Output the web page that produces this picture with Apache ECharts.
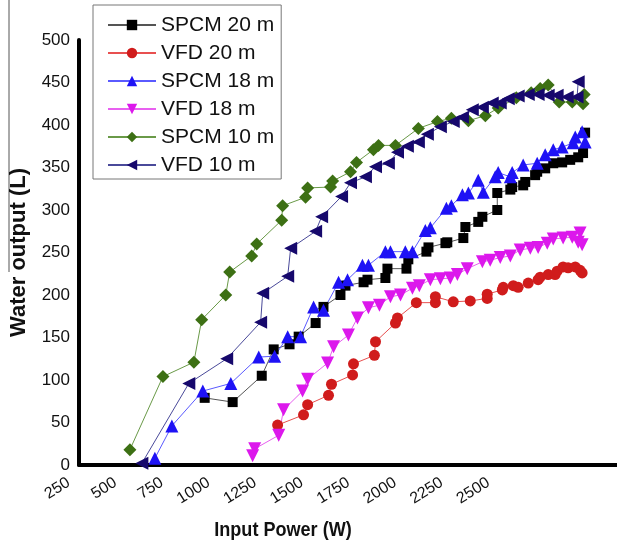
<!DOCTYPE html>
<html>
<head>
<meta charset="utf-8">
<script src="https://cdn.jsdelivr.net/npm/echarts@6/dist/echarts.min.js"></script>
<style>
html,body{margin:0;padding:0;background:#fff;}
#chart{width:617px;height:547px;}
</style>
</head>
<body>
<div id="chart"></div>
<script>
const xTickLabels = [250, 500, 750, 1000, 1250, 1500, 1750, 2000, 2250, 2500];
const seriesNames = ['SPCM 20 m', 'VFD 20 m', 'SPCM 18 m', 'VFD 18 m', 'SPCM 10 m', 'VFD 10 m'];

const spcm20Power = [924,1074,1230,1294,1379,1428,1519,1561,1652,1679,1776,1797,1893,1904,2006,2016,2113,2124,2215,2225,2311,2322,2391,2413,2493,2493,2563,2573,2632,2643,2696,2707,2750,2793,2841,2884,2927,2953,2964];
const spcm20Water = [79,74,105,136,142,151,167,186,200,211,215,218,220,231,231,242,251,256,261,262,267,280,286,292,300,320,324,327,329,333,341,345,349,355,356,359,362,367,391];

const vfd20Power = [1315,1454,1476,1588,1604,1717,1722,1834,1840,1947,1958,2059,2161,2161,2257,2348,2439,2439,2520,2525,2579,2605,2659,2712,2723,2766,2803,2814,2846,2873,2911,2937,2948];
const vfd20Water = [47,59,71,82,95,106,119,129,145,167,173,191,191,198,192,193,196,201,206,209,211,209,214,218,221,224,224,228,233,232,233,229,226];

const spcm18Power = [657,748,914,1064,1214,1299,1369,1438,1508,1561,1642,1690,1770,1802,1893,1920,2000,2038,2107,2134,2220,2247,2306,2338,2391,2418,2482,2498,2563,2573,2632,2707,2750,2793,2841,2900,2911,2948,2964];
const spcm18Water = [8,46,87,96,127,128,151,151,186,182,215,218,235,235,251,251,251,251,276,279,302,305,318,320,335,321,339,344,339,344,353,355,365,371,374,379,386,392,380];

const vfd18Power = [1181,1192,1321,1347,1449,1476,1583,1615,1695,1743,1802,1861,1920,1974,2038,2075,2134,2188,2241,2279,2332,2413,2455,2509,2563,2616,2670,2712,2761,2793,2846,2895,2927,2937,2948];
const vfd18Water = [11,19,35,65,87,101,120,139,153,173,185,188,198,200,208,211,218,219,220,224,231,239,241,244,246,253,255,256,261,266,267,268,262,273,259];

const spcm10Power = [523,700,866,908,1037,1058,1176,1203,1337,1342,1465,1476,1599,1610,1706,1738,1829,1856,1947,2070,2172,2247,2338,2429,2498,2595,2675,2723,2766,2825,2895,2959,2953];
const spcm10Water = [18,104,121,171,200,227,246,260,288,305,315,326,327,334,345,356,371,376,376,396,404,408,405,411,420,432,438,443,447,427,427,436,425];

const vfd10Power = [587,839,1042,1224,1235,1369,1385,1519,1551,1658,1706,1786,1840,1909,1958,2011,2070,2118,2188,2257,2306,2359,2413,2466,2509,2552,2605,2659,2712,2766,2814,2868,2921,2927];
const vfd10Water = [2,96,125,168,202,222,255,275,292,316,332,339,351,355,368,375,380,389,398,404,409,418,421,426,426,431,434,436,436,435,435,433,433,451];

function pairs(xs, ys) { return xs.map((x, i) => [x, ys[i]]); }

const FONT = '"Liberation Sans", Arial, sans-serif';

const styles = [
  { symbol: 'rect', size: 10, rotate: 0, marker: '#000000', line: '#555555' },
  { symbol: 'circle', size: 11, rotate: 0, marker: '#d01c1c', line: '#e85050' },
  { symbol: 'triangle', size: 13, rotate: 0, marker: '#1e12f5', line: '#5a5aff' },
  { symbol: 'triangle', size: 13, rotate: 180, marker: '#dc18ec', line: '#e860f0' },
  { symbol: 'diamond', size: 13, rotate: 0, marker: '#3d7014', line: '#6a9a48' },
  { symbol: 'triangle', size: 13, rotate: 90, marker: '#16086c', line: '#4a4a9a' }
];

const dataSets = [
  pairs(spcm20Power, spcm20Water),
  pairs(vfd20Power, vfd20Water),
  pairs(spcm18Power, spcm18Water),
  pairs(vfd18Power, vfd18Water),
  pairs(spcm10Power, spcm10Water),
  pairs(vfd10Power, vfd10Water)
];

const chart = echarts.init(document.getElementById('chart'), null, { renderer: 'canvas' });

const option = {
  animation: false,
  backgroundColor: '#ffffff',
  textStyle: { fontFamily: FONT },
  grid: { left: 78, right: 0, top: 40, bottom: 82, containLabel: false },
  legend: {
    orient: 'vertical',
    left: 93,
    top: 5,
    data: seriesNames,
    itemWidth: 48,
    itemHeight: 13,
    itemGap: 6,
    padding: [9, 7, 3, 14],
    borderColor: '#777',
    borderWidth: 1,
    backgroundColor: '#ffffff',
    textStyle: { fontSize: 21, color: '#111', fontFamily: FONT, lineHeight: 22 }
  },
  xAxis: {
    type: 'value',
    min: 250,
    max: 3135,
    interval: 250,
    axisLine: { show: true, onZero: false, lineStyle: { color: '#000', width: 4 } },
    axisTick: { show: false },
    splitLine: { show: false },
    axisLabel: {
      rotate: 32,
      fontSize: 16,
      color: '#111',
      margin: 10,
      padding: [0, 12, 0, 0],
      showMaxLabel: false,
      formatter: v => (xTickLabels.indexOf(v) >= 0 ? String(v) : '')
    }
  },
  yAxis: {
    type: 'value',
    min: 0,
    max: 500,
    interval: 50,
    name: 'Water output (L)',
    nameLocation: 'middle',
    nameGap: 49,
    nameTextStyle: { fontSize: 22, fontWeight: 'bold', color: '#111', fontFamily: FONT },
    axisLine: { show: true, lineStyle: { color: '#000', width: 4 } },
    axisTick: { show: false },
    splitLine: { show: false },
    axisLabel: { fontSize: 17, color: '#111', margin: 9 }
  },
  graphic: [
    {
      type: 'line',
      shape: { x1: 9, y1: 0, x2: 9, y2: 272 },
      style: { stroke: '#555', lineWidth: 1 }
    },
    {
      type: 'text',
      x: 283,
      y: 530,
      scaleX: 0.86,
      style: {
        text: 'Input Power (W)',
        fontSize: 21,
        fontWeight: 'bold',
        fontFamily: FONT,
        fill: '#111',
        textAlign: 'center',
        textVerticalAlign: 'middle'
      }
    }
  ],
  series: seriesNames.map((name, i) => ({
    name: name,
    type: 'line',
    data: dataSets[i],
    symbol: styles[i].symbol,
    symbolSize: styles[i].size,
    symbolRotate: styles[i].rotate,
    showSymbol: true,
    clip: false,
    lineStyle: { color: styles[i].line, width: 1 },
    itemStyle: { color: styles[i].marker, borderWidth: 0 },
    emphasis: { disabled: true }
  }))
};

chart.setOption(option);
</script>
</body>
</html>
